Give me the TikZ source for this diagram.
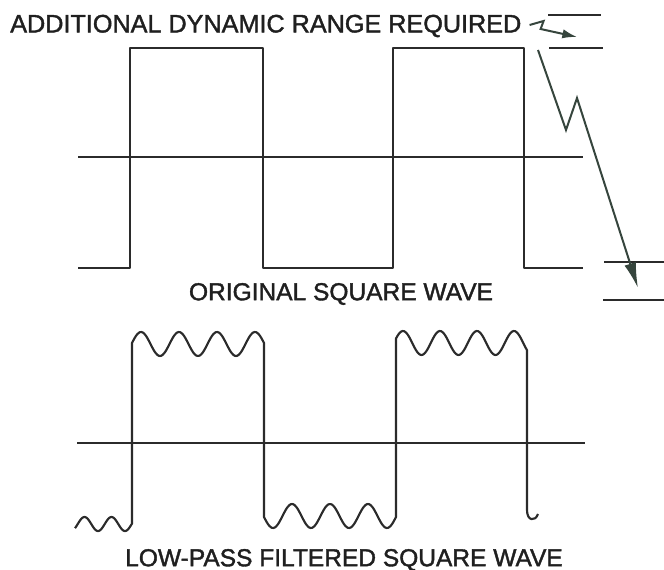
\documentclass[tikz,border=0pt]{standalone}
\usepackage{fontspec}
\setmainfont{Liberation Sans}
\newfontfamily\capsfont[FakeBold=1.6]{Liberation Sans}
\usetikzlibrary{positioning, arrows.meta}
\definecolor{trazo}{HTML}{2B2B2B}
\definecolor{flecha}{HTML}{36453D}
\definecolor{texto}{HTML}{1F1F1F}

\begin{document}
\begin{tikzpicture}[
    x=0.75pt, y=-0.75pt,
    every node/.style={font=\capsfont\fontsize{18.4}{20}\selectfont, text=texto, inner sep=0pt},
    wave/.style={draw=trazo, line width=1.6pt, line join=round, samples=100},
    axis/.style={draw=trazo, line width=1.5pt},
    level line/.style={draw=trazo, line width=1.5pt},
    zig/.style={draw=flecha, line width=1.5pt, line join=miter}
]
\useasboundingbox (0,0) rectangle (664,570);

\node[anchor=west, font=\capsfont\fontsize{18.9}{20}\selectfont] (rangelbl) at (10,26) {ADDITIONAL DYNAMIC RANGE REQUIRED};
\node (origlbl) at (341,294) {ORIGINAL SQUARE WAVE};
\node (filtlbl) at (344,560) {LOW-PASS FILTERED SQUARE WAVE};

\draw[axis] (78,157) -- (583,157);
\draw[wave] (78,268) -- (130,268) -- (130,48) -- (263,48) -- (263,268)
    -- (393,268) -- (393,48) -- (524,48) -- (524,268) -- (583,268);

\draw[axis] (77,443) -- (585,443);
\draw[wave] plot[domain=75:132] (\x, {524+7*cos((\x-125)/27*360)})
    -- plot[domain=132:264] (\x, {344-12*cos((\x-141)/38*360)})
    -- plot[domain=264:396] (\x, {516+12*cos((\x-273)/38*360)})
    -- plot[domain=396:527] (\x, {343-12*cos((\x-403)/37*360)})
    -- (527,510) .. controls (527,521) and (535,522) .. (538,514);

\draw[level line] (548,15) -- (601,15);
\draw[level line] (549,48) -- (603,48);
\draw[level line] (604,262) -- (664,262);
\draw[level line] (603,300) -- (664,300);

\coordinate (gaptip) at (577,37);
\coordinate (dropstart) at (538,50);
\coordinate (droptip) at (638,288);
\draw[zig, -{Latex[length=11pt, width=7pt]}] ([shift={(8,-1)}]rangelbl.east)
    -- ++(14,-4) -- ++(-3,8) -- (gaptip);
\draw[zig, -{Latex[length=19pt, width=9pt]}] (dropstart) -- (566,130) -- (577,98) -- (droptip);
\end{tikzpicture}
\end{document}
